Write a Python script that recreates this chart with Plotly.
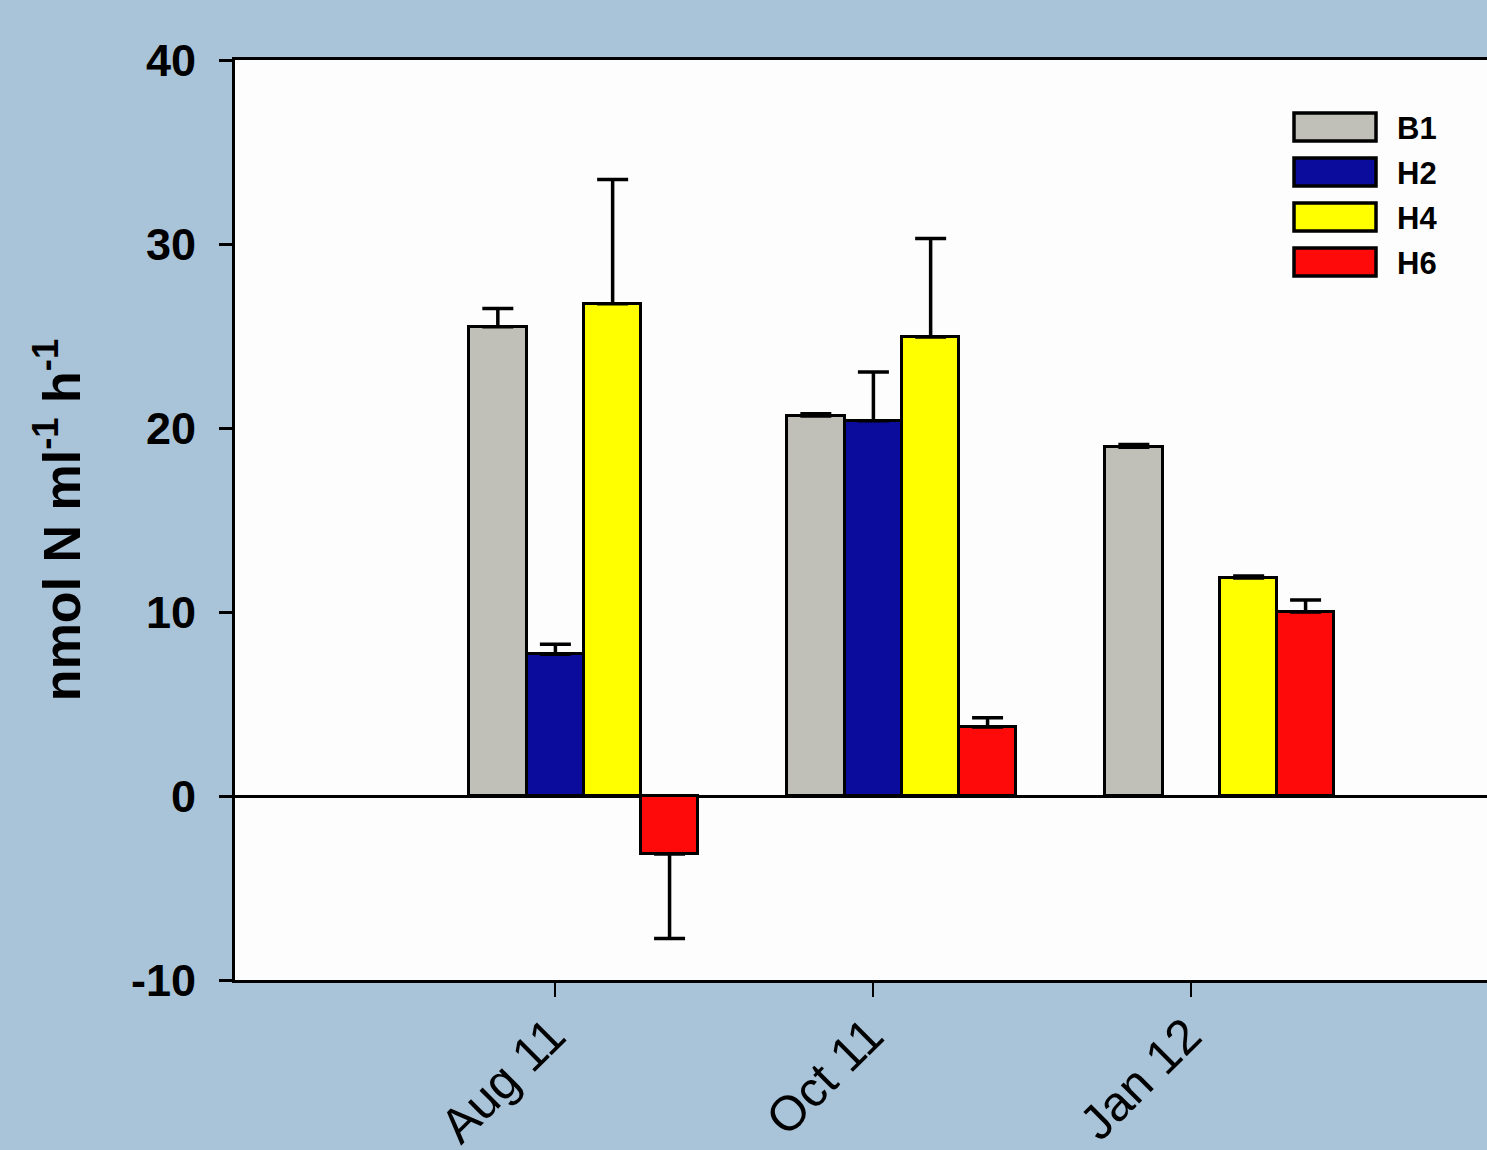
import plotly.graph_objects as go

# Sampling dates and treatments
months = ["Aug 11", "Oct 11", "Jan 12"]
series_names = ["B1", "H2", "H4", "H6"]
y_ticks = [-10, 0, 10, 20, 30, 40]
y_tick_text = ["-10", "0", "10", "20", "30", "40"]

# Rates (nmol N ml-1 h-1) and their standard errors
b1_vals = [25.5, 20.65, 18.95]
b1_err = [1.0, 0.12, 0.15]
h2_vals = [7.7, 20.4, None]
h2_err = [0.55, 2.65, None]
h4_vals = [26.75, 24.95, 11.85]
h4_err = [6.75, 5.35, 0.1]
h6_vals = [-3.15, 3.75, 10.0]
h6_err = [4.6, 0.5, 0.65]

colors = ["#c0c0b8", "#0c0c9c", "#ffff00", "#ff0a0a"]
values = [b1_vals, h2_vals, h4_vals, h6_vals]
errors = [b1_err, h2_err, h4_err, h6_err]

FONT = "Liberation Sans, Arial, sans-serif"
W, H = 1487, 1150
L, R, T, B = 235, 0, 60, 170

bar_w = 0.181
offsets = [-0.270, -0.089, 0.091, 0.270]
xpos = list(range(len(months)))

fig = go.Figure()
for name, vals, errs, col, off in zip(series_names, values, errors, colors, offsets):
    plus = [(e if (v is not None and v >= 0) else 0) if e is not None else None for v, e in zip(vals, errs)]
    minus = [(e if (v is not None and v < 0) else 0) if e is not None else None for v, e in zip(vals, errs)]
    fig.add_trace(go.Bar(
        x=xpos, y=vals, name=name, width=bar_w, offset=off,
        marker=dict(color=col, line=dict(color="black", width=3)),
        error_y=dict(type="data", symmetric=False, array=plus, arrayminus=minus,
                     color="black", thickness=3.5, width=15.5),
        showlegend=False,
    ))

# Legend drawn as framed swatches with labels
plot_w = W - L - R
plot_h = H - T - B
def px_to_paper_x(px):
    return (px - L) / plot_w
def px_to_paper_y(py):
    return (H - B - py) / plot_h

shapes = []
annotations = []
row0, pitch = 127, 45
for i, (name, col) in enumerate(zip(series_names, colors)):
    cy = row0 + i * pitch
    shapes.append(dict(type="rect", xref="paper", yref="paper",
                       x0=px_to_paper_x(1294), x1=px_to_paper_x(1376),
                       y0=px_to_paper_y(cy - 14), y1=px_to_paper_y(cy + 14),
                       fillcolor=col, line=dict(color="black", width=3.5)))
    annotations.append(dict(xref="paper", yref="paper", x=px_to_paper_x(1395),
                            y=px_to_paper_y(cy + 1), text=name, showarrow=False,
                            xanchor="left", yanchor="middle",
                            font=dict(family=FONT, size=31, color="black", weight="bold")))

fig.update_layout(
    width=W, height=H,
    margin=dict(l=L, r=R, t=T, b=B, pad=0, autoexpand=False),
    paper_bgcolor="#a9c3d8",
    plot_bgcolor="#fdfdfd",
    barmode="overlay",
    bargap=0,
    shapes=shapes,
    annotations=annotations,
    font=dict(family=FONT, color="black"),
)

fig.update_xaxes(
    range=[-1.006, 2.931],
    tickvals=xpos, ticktext=months,
    tickangle=-45,
    tickfont=dict(family=FONT, size=49, color="black"),
    ticklabelshift=-4,
    ticklabelstandoff=-10,
    ticks="outside", ticklen=14, tickwidth=2, tickcolor="black",
    showline=True, linecolor="black", linewidth=3, mirror=True,
    showgrid=False, zeroline=False, automargin=False,
)

fig.update_yaxes(
    range=[-10, 40],
    tickvals=y_ticks, ticktext=y_tick_text,
    tickfont=dict(family=FONT, size=45, color="black", weight="bold"),
    ticks="outside", ticklen=13, tickwidth=3, tickcolor="black",
    ticklabelstandoff=14,
    showline=True, linecolor="black", linewidth=3, mirror=False,
    showgrid=False, automargin=False,
    zeroline=True, zerolinecolor="black", zerolinewidth=3,
    title=dict(text="nmol N ml<sup>-1</sup> h<sup>-1</sup>",
               font=dict(family=FONT, size=52, color="black", weight="bold"),
               standoff=34),
)

fig.write_html("out.html")
